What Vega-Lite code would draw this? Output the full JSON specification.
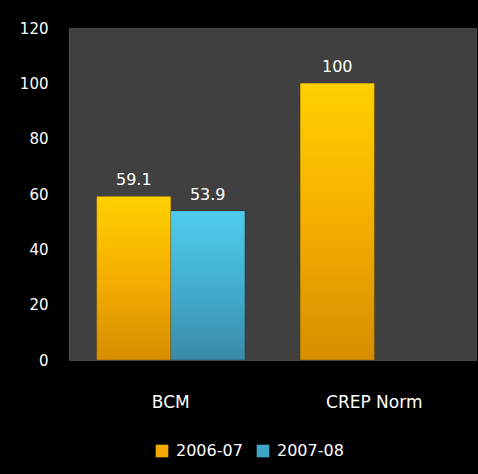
{
  "$schema": "https://vega.github.io/schema/vega-lite/v6.json",
  "width": 407,
  "height": 332,
  "autosize": "none",
  "padding": {"left": 69, "top": 28, "right": 2, "bottom": 114},
  "background": "#000000",
  "view": {"fill": "#404040", "stroke": "#4a4a4a", "strokeWidth": 1},
  "config": {
    "font": "DejaVu Sans",
    "axis": {"labelColor": "#ffffff", "grid": false, "ticks": false, "domain": false, "title": null},
    "legend": {"labelColor": "#ffffff"}
  },
  "data": {
    "values": [
      {"category": "BCM", "season": "2006-07", "value": 59.1},
      {"category": "BCM", "season": "2007-08", "value": 53.9},
      {"category": "CREP Norm", "season": "2006-07", "value": 100}
    ]
  },
  "encoding": {
    "x": {
      "field": "category",
      "type": "nominal",
      "scale": {"paddingInner": 0.273, "paddingOuter": 0.1365},
      "axis": {"labelAngle": 0, "labelFontSize": 17, "labelPadding": 34, "labelBaseline": "top"}
    },
    "xOffset": {"field": "season", "type": "nominal", "scale": {"domain": ["2006-07", "2007-08"], "paddingInner": 0, "paddingOuter": 0}},
    "y": {
      "field": "value",
      "type": "quantitative",
      "scale": {"domain": [0, 120], "nice": false},
      "axis": {"values": [0, 20, 40, 60, 80, 100, 120], "labelFontSize": 15, "labelPadding": 21}
    }
  },
  "layer": [
    {
      "mark": {"type": "bar"},
      "encoding": {
        "fill": {
          "field": "season",
          "type": "nominal",
          "scale": {"domain": ["2006-07", "2007-08"], "range": ["#f2aa00", "#3fa6c8"]},
          "legend": {
            "title": null,
            "orient": "none",
            "direction": "horizontal",
            "legendX": 85,
            "legendY": 415,
            "symbolType": "square",
            "symbolSize": 160,
            "symbolStrokeWidth": 0,
            "symbolOpacity": 1,
            "labelFontSize": 16,
            "labelOffset": 6,
            "columnPadding": 12
          }
        }
      }
    },
    {
      "mark": {"type": "bar", "stroke": "#000000", "strokeOpacity": 0.18, "strokeWidth": 1},
      "encoding": {
        "fill": {
          "condition": {
            "test": "datum.season === '2006-07'",
            "value": {"gradient": "linear", "x1": 0, "y1": 0, "x2": 0, "y2": 1, "stops": [{"offset": 0, "color": "#ffd000"}, {"offset": 0.5, "color": "#f5ae00"}, {"offset": 1, "color": "#d68e00"}]}
          },
          "value": {"gradient": "linear", "x1": 0, "y1": 0, "x2": 0, "y2": 1, "stops": [{"offset": 0, "color": "#4fcdee"}, {"offset": 0.5, "color": "#43aed0"}, {"offset": 1, "color": "#3a8aa6"}]}
        }
      }
    },
    {
      "mark": {"type": "text", "color": "#ffffff", "fontSize": 16, "baseline": "alphabetic", "dy": -11},
      "encoding": {"text": {"field": "value", "type": "quantitative"}}
    }
  ]
}
